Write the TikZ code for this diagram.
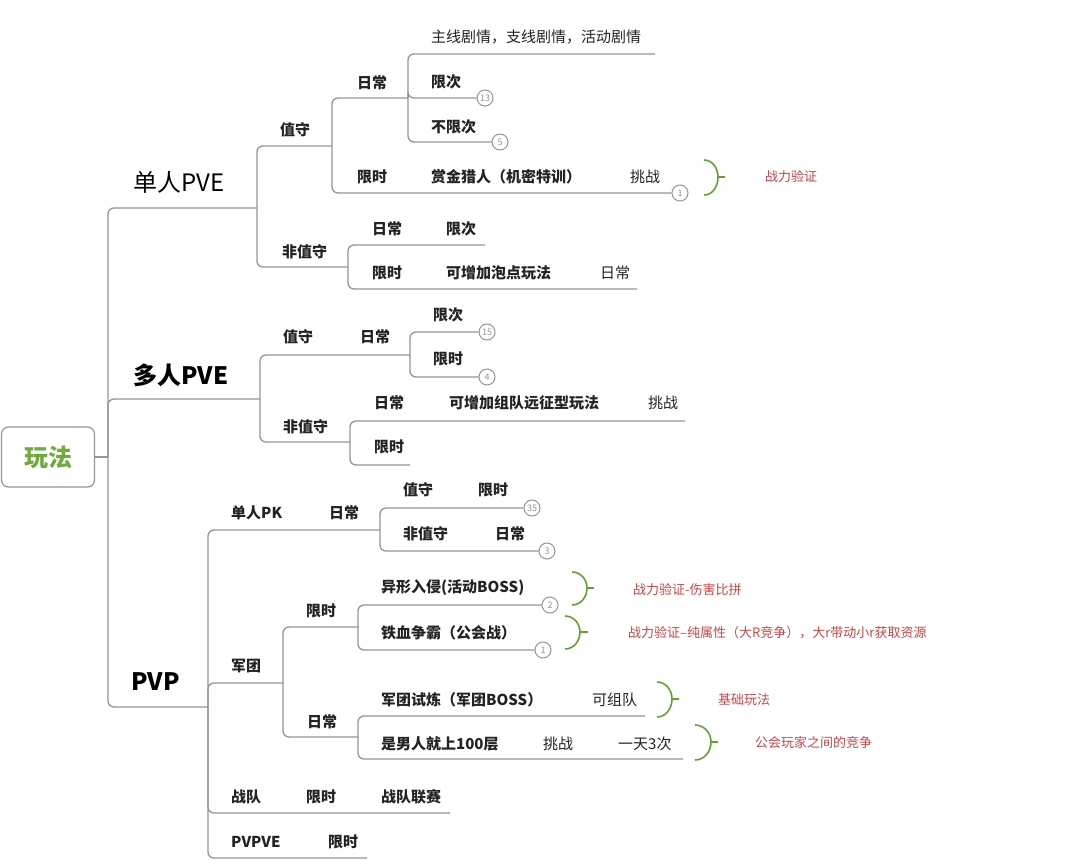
\documentclass[tikz,border=0pt]{standalone}
\usepackage{fontspec}
\setmainfont{Noto Sans CJK SC}
\definecolor{lg}{RGB}{150,150,150}
\definecolor{txt}{RGB}{35,35,35}
\definecolor{rootgreen}{RGB}{110,170,60}
\definecolor{notered}{RGB}{200,70,70}
\definecolor{bgreen}{RGB}{100,160,50}
\tikzset{
  branch/.style={draw=lg, line width=1.3pt, rounded corners=6pt},
  lbl/.style={anchor=west, inner sep=0pt, text=txt, font=\fontsize{15}{17}\selectfont\bfseries},
  lbln/.style={anchor=west, inner sep=0pt, text=txt, font=\fontsize{15}{17}\selectfont},
  lvlone/.style={anchor=west, inner sep=0pt, text=black, font=\fontsize{24}{28}\selectfont\bfseries},
  lvlonen/.style={anchor=west, inner sep=0pt, text=black, font=\fontsize{24}{28}\selectfont},
  rootbox/.style={draw=lg, line width=1.2pt, rounded corners=7pt, minimum width=93pt, minimum height=60pt, text=rootgreen, font=\fontsize{24}{28}\selectfont\bfseries},
  cnt/.style={circle, draw=lg, line width=1pt, minimum size=16pt, inner sep=0pt, fill=white, text=lg, font=\fontsize{9}{9}\selectfont},
  annot/.style={anchor=west, inner sep=0pt, text=notered, font=\fontsize{13}{15}\selectfont},
  brace/.style={draw=bgreen, line width=1.6pt},
}
\begin{document}
\begin{tikzpicture}[x=1pt, y=-1pt]
\useasboundingbox[fill=white] (0,0) rectangle (1080,860);

% ---------- root ----------
\node[rootbox] (root) at (48,457) {玩法};
\coordinate (T0) at (108,457);

% ---------- level one ----------
\node[lvlonen] (spve) at (133,182) {单人PVE};
\node[lvlone] (mpve) at (133,375) {多人PVE};
\node[lvlone] (pvp) at (131,682) {PVP};

% ---------- 单人PVE ----------
\node[lbl] (szs) at (280,130) {值守};
\node[lbl] (szsrc) at (357,83) {日常};
\node[lbln] (szsrcmain) at (431,37) {主线剧情，支线剧情，活动剧情};
\node[lbl] (szsrcxc) at (431,82) {限次};
\node[lbl] (szsrcbxc) at (431,127) {不限次};
\node[lbl] (szsxs) at (357,177) {限时};
\node[lbl] (szsxssj) at (431,177) {赏金猎人（机密特训）};
\node[lbln] (szsxstz) at (630,177) {挑战};
\node[cnt] (c13) at (485,98) {13};
\node[cnt] (c5) at (500,142) {5};
\node[cnt] (c1a) at (680,193) {1};

\node[lbl] (sfzs) at (282,252) {非值守};
\node[lbl] (sfzsrc) at (372,229) {日常};
\node[lbl] (sfzsrcxc) at (446,229) {限次};
\node[lbl] (sfzsxs) at (372,273) {限时};
\node[lbl] (sfzsxspd) at (446,273) {可增加泡点玩法};
\node[lbln] (sfzsxsrc) at (600,273) {日常};

% ---------- 多人PVE ----------
\node[lbl] (mzs) at (283,337) {值守};
\node[lbl] (mzsrc) at (360,337) {日常};
\node[lbl] (mxc) at (433,315) {限次};
\node[lbl] (mxs) at (433,359) {限时};
\node[cnt] (c15) at (487,332) {15};
\node[cnt] (c4) at (487,377) {4};
\node[lbl] (mfzs) at (283,427) {非值守};
\node[lbl] (mfzsrc) at (374,403) {日常};
\node[lbl] (mfzsrcyz) at (449,403) {可增加组队远征型玩法};
\node[lbln] (mfzsrctz) at (648,403) {挑战};
\node[lbl] (mfzsxs) at (374,447) {限时};

% ---------- PVP ----------
\node[lbl] (ppk) at (231,513) {单人PK};
\node[lbl] (ppkrc) at (329,513) {日常};
\node[lbl] (ppkzs) at (403,490) {值守};
\node[lbl] (ppkzsxs) at (478,490) {限时};
\node[lbl] (ppkfzs) at (403,534) {非值守};
\node[lbl] (ppkfzsrc) at (495,534) {日常};
\node[cnt] (c35) at (532,508) {35};
\node[cnt] (c3) at (547,551) {3};

\node[lbl] (pjt) at (231,666) {军团};
\node[lbl] (pjtxs) at (306,611) {限时};
\node[lbl] (pyx) at (381,588) {异形入侵(活动BOSS)};
\node[lbl] (ptx) at (381,633) {铁血争霸（公会战）};
\node[cnt] (c2) at (550,605) {2};
\node[cnt] (c1b) at (543,650) {1};
\node[lbl] (pjtrc) at (307,722) {日常};
\node[lbl] (pjtsl) at (381,700) {军团试炼（军团BOSS）};
\node[lbln] (pkzd) at (592,700) {可组队};
\node[lbl] (pnr) at (381,744) {是男人就上100层};
\node[lbln] (pnrtz) at (543,744) {挑战};
\node[lbln] (pnr3) at (618,744) {一天3次};
\node[lbl] (pzd) at (231,797) {战队};
\node[lbl] (pzdxs) at (306,797) {限时};
\node[lbl] (pzdls) at (381,797) {战队联赛};
\node[lbl] (ppvpve) at (231,842) {PVPVE};
\node[lbl] (ppvpvexs) at (328,842) {限时};

% ---------- annotations ----------
\node[annot] (a1) at (765,177) {战力验证};
\node[annot] (a2) at (633,590) {战力验证-伤害比拼};
\node[annot] (a3) at (628,633) {战力验证--纯属性（大R竞争），大r带动小r获取资源};
\node[annot] (a4) at (718,700) {基础玩法};
\node[annot] (a5) at (755,743) {公会玩家之间的竞争};

% ---------- fork points / underline ends ----------
\coordinate (F1) at (257,208);
\coordinate (F11) at (332,146);
\coordinate (F111) at (408,98);
\coordinate (F12) at (348,267);
\coordinate (emain) at (655,54);
\coordinate (efzsxc) at (485,245);
\coordinate (efzsrc) at (637,289);

\coordinate (F2) at (260,399);
\coordinate (F21) at (410,355);
\coordinate (F22) at (350,442);
\coordinate (emtz) at (685,421);
\coordinate (emxs) at (410,465);

\coordinate (F3) at (208,707);
\coordinate (F31) at (380,530);
\coordinate (F32) at (283,683);
\coordinate (F321) at (358,627);
\coordinate (F322) at (358,737);
\coordinate (ezd) at (450,813);
\coordinate (epvpve) at (367,858);
\coordinate (ekzd) at (645,716);
\coordinate (enr) at (683,759);

% ---------- connectors ----------
\draw[branch] (root.east) -- (T0);
\draw[branch] (T0) |- (F1);
\draw[branch] (T0) |- (F2);
\draw[branch] (T0) |- (F3);

\draw[branch] (F1) |- (F11);
\draw[branch] (F1) |- (F12);
\draw[branch] (F11) |- (F111);
\draw[branch] (F11) |- (c1a.west);
\draw[branch] (F111) |- (emain);
\draw[branch] (F111) |- (c13.west);
\draw[branch] (F111) |- (c5.west);
\draw[branch] (F12) |- (efzsxc);
\draw[branch] (F12) |- (efzsrc);

\draw[branch] (F2) |- (F21);
\draw[branch] (F2) |- (F22);
\draw[branch] (F21) |- (c15.west);
\draw[branch] (F21) |- (c4.west);
\draw[branch] (F22) |- (emtz);
\draw[branch] (F22) |- (emxs);

\draw[branch] (F3) |- (F31);
\draw[branch] (F3) |- (F32);
\draw[branch] (F3) |- (ezd);
\draw[branch] (F3) |- (epvpve);
\draw[branch] (F31) |- (c35.west);
\draw[branch] (F31) |- (c3.west);
\draw[branch] (F32) |- (F321);
\draw[branch] (F32) |- (F322);
\draw[branch] (F321) |- (c2.west);
\draw[branch] (F321) |- (c1b.west);
\draw[branch] (F322) |- (ekzd);
\draw[branch] (F322) |- (enr);

% ---------- braces ----------
\draw[brace] (704,160) to[out=0,in=90] (718,177) to[out=-90,in=0] (704,195);
\draw[brace] (718,177) -- (725,177);
\draw[brace] (572,572) to[out=0,in=90] (587,588) to[out=-90,in=0] (572,605);
\draw[brace] (587,588) -- (594,588);
\draw[brace] (565,616) to[out=0,in=90] (580,632) to[out=-90,in=0] (565,649);
\draw[brace] (580,632) -- (588,632);
\draw[brace] (657,682) to[out=0,in=90] (672,699) to[out=-90,in=0] (657,717);
\draw[brace] (672,699) -- (679,699);
\draw[brace] (695,725) to[out=0,in=90] (711,742) to[out=-90,in=0] (695,760);
\draw[brace] (711,742) -- (718,742);
\end{tikzpicture}
\end{document}
